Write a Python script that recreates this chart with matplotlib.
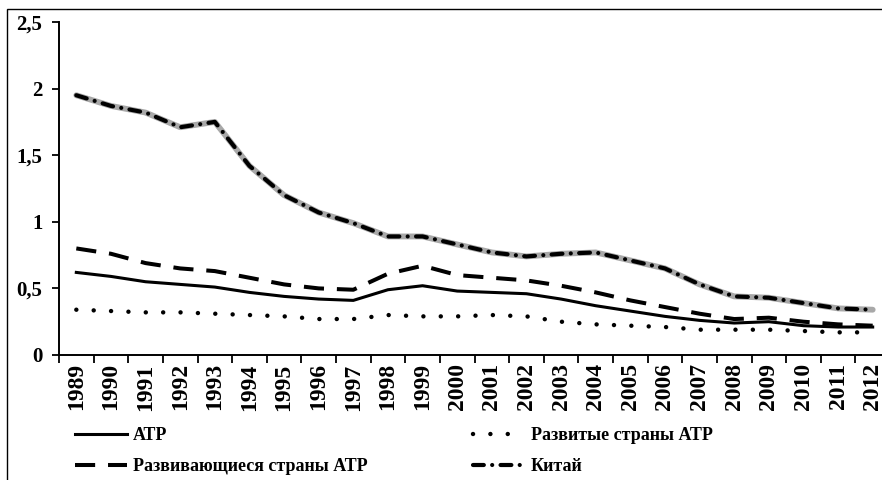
import matplotlib
matplotlib.use("Agg")
import matplotlib.pyplot as plt
from matplotlib.patches import Rectangle
import numpy as np

years = [str(y) for y in range(1989, 2013)]

atr = [0.62, 0.59, 0.55, 0.53, 0.51, 0.47, 0.44, 0.42, 0.41, 0.49, 0.52, 0.48,
       0.47, 0.46, 0.42, 0.37, 0.33, 0.29, 0.26, 0.24, 0.25, 0.22, 0.21, 0.21]
developed = [0.34, 0.33, 0.32, 0.32, 0.31, 0.30, 0.29, 0.27, 0.27, 0.30, 0.29, 0.29,
             0.30, 0.29, 0.25, 0.23, 0.22, 0.21, 0.19, 0.19, 0.19, 0.18, 0.17, 0.17]
developing = [0.80, 0.76, 0.69, 0.65, 0.63, 0.58, 0.53, 0.50, 0.49, 0.61, 0.67, 0.60,
              0.58, 0.56, 0.52, 0.47, 0.41, 0.36, 0.31, 0.27, 0.28, 0.25, 0.23, 0.22]
china = [1.95, 1.87, 1.82, 1.71, 1.75, 1.42, 1.20, 1.07, 0.99, 0.89, 0.89, 0.83,
         0.77, 0.74, 0.76, 0.77, 0.71, 0.65, 0.53, 0.44, 0.43, 0.39, 0.35, 0.34]

labels = ["АТР", "Развитые страны АТР", "Развивающиеся страны АТР", "Китай"]

plt.rcParams['font.family'] = ['Liberation Serif', 'DejaVu Serif']
plt.rcParams['font.weight'] = 'bold'

fig = plt.figure(figsize=(8.82, 4.8), dpi=100)
ax = fig.add_axes([59/882, 1 - 355/480, (890 - 59)/882, (355 - 22)/480])

x = np.arange(len(years))

l1, = ax.plot(x, atr, color='black', lw=2.2, solid_joinstyle='round')
l2, = ax.plot(x, developed, color='black', lw=3.2, dashes=(0.01, 3.9),
              dash_capstyle='round')
l3, = ax.plot(x, developing, color='black', lw=2.9, dashes=(5, 3.2),
              dash_capstyle='butt')
# china: grey line under black dash-dot
ax.plot(x, china, color='#a8a8a8', lw=4.2, solid_capstyle='round')
l4, = ax.plot(x, china, color='black', lw=3.0, dashes=(2.6, 2.0, 0.01, 2.0),
              dash_capstyle='round')

ax.set_xlim(-0.5, len(years) - 0.5)
ax.set_ylim(0, 2.5)
ax.set_yticks([0, 0.5, 1, 1.5, 2, 2.5])
ax.set_yticklabels(['0', '0,5', '1', '1,5', '2', '2,5'])
ax.set_xticks(x)
ax.set_xticklabels(years, rotation=90)
ax.set_xticks(np.arange(len(years) + 1) - 0.5, minor=True)
ax.tick_params(axis='x', which='major', length=0, pad=6, labelsize=17)
ax.tick_params(axis='x', which='minor', length=6, width=1.3, direction='out')
ax.tick_params(axis='y', length=5, width=1.3, pad=7, labelsize=15)

for s in ['top', 'right']:
    ax.spines[s].set_visible(False)
for s in ['left', 'bottom']:
    ax.spines[s].set_linewidth(1.4)

leg1 = fig.legend([l1, l3], [labels[0], labels[2]], loc='upper left',
                  bbox_to_anchor=(75/882, 1 - 427/480), frameon=False,
                  fontsize=13, handlelength=2.9, handletextpad=0.3,
                  labelspacing=0.8, borderpad=0, borderaxespad=0)
leg2 = fig.legend([l2, l4], [labels[1], labels[3]], loc='upper left',
                  bbox_to_anchor=(473/882, 1 - 427/480), frameon=False,
                  fontsize=13, handlelength=2.9, handletextpad=0.3,
                  labelspacing=0.8, borderpad=0, borderaxespad=0)

fig.add_artist(Rectangle((7/882, -0.2), 1.2, 0.2 + (1 - 9/480), transform=fig.transFigure,
                         fill=False, edgecolor='black', lw=1.0, clip_on=False))

fig.savefig('out.png', dpi=100)
